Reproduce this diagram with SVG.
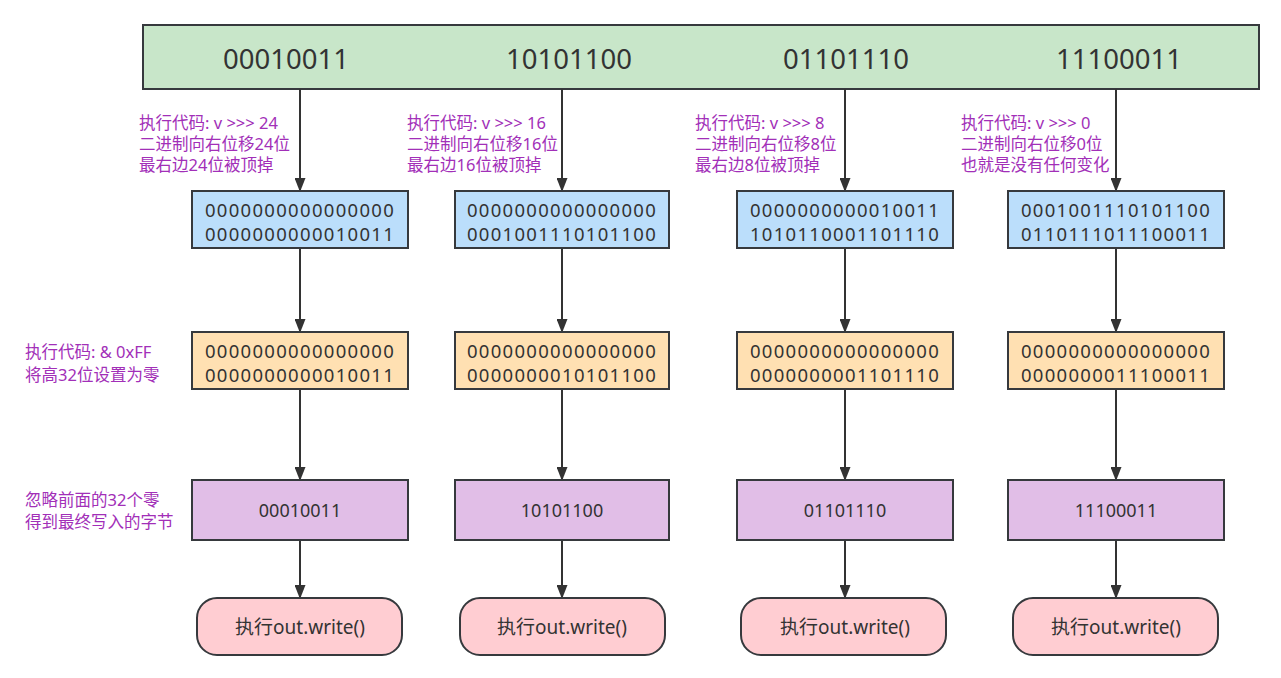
<svg xmlns="http://www.w3.org/2000/svg" width="1281" height="678" viewBox="0 0 1281 678">
<defs>
<style>
.box{stroke:#36393d;stroke-width:2}
.t{font-family:"Noto Sans","Noto Sans CJK SC",sans-serif;fill:#333333;text-anchor:middle}
.n{font-size:18.5px;letter-spacing:1.3px}
.b{font-size:18px}
.w{font-size:19px}
.big{font-size:27.5px}
.lbl{font-family:"Noto Sans","Noto Sans CJK SC",sans-serif;font-size:16.5px;fill:#A22FB8}
.c{stroke:#333333;stroke-width:2;fill:none;marker-end:url(#ah)}
</style>
<marker id="ah" viewBox="0 0 14 11" refX="13" refY="5.5" markerWidth="14" markerHeight="11" markerUnits="userSpaceOnUse" orient="auto">
<path d="M0,0 L14,5.5 L0,11 z" fill="#333333"/>
</marker>
</defs>
<rect width="1281" height="678" fill="#ffffff"/>
<g id="top">
<rect class="box" x="143" y="25" width="1116" height="64" fill="#C8E6C9"/>
<text class="t big" x="286" y="69">00010011</text>
<text class="t big" x="569" y="69">10101100</text>
<text class="t big" x="846" y="69">01101110</text>
<text class="t big" x="1119" y="69">11100011</text>
</g>
<g id="connectors">
<path class="c" d="M300,89 V191"/>
<path class="c" d="M300,248 V332"/>
<path class="c" d="M300,389 V480"/>
<path class="c" d="M300,540 V598"/>
<path class="c" d="M562,89 V191"/>
<path class="c" d="M562,248 V332"/>
<path class="c" d="M562,389 V480"/>
<path class="c" d="M562,540 V598"/>
<path class="c" d="M845,89 V191"/>
<path class="c" d="M845,248 V332"/>
<path class="c" d="M845,389 V480"/>
<path class="c" d="M845,540 V598"/>
<path class="c" d="M1116,89 V191"/>
<path class="c" d="M1116,248 V332"/>
<path class="c" d="M1116,389 V480"/>
<path class="c" d="M1116,540 V598"/>
</g>
<g id="labels">
<text class="lbl" x="139" y="129">执行代码: v &gt;&gt;&gt; 24</text>
<text class="lbl" x="139" y="150">二进制向右位移24位</text>
<text class="lbl" x="139" y="171">最右边24位被顶掉</text>
<text class="lbl" x="407" y="129">执行代码: v &gt;&gt;&gt; 16</text>
<text class="lbl" x="407" y="150">二进制向右位移16位</text>
<text class="lbl" x="407" y="171">最右边16位被顶掉</text>
<text class="lbl" x="695" y="129">执行代码: v &gt;&gt;&gt; 8</text>
<text class="lbl" x="695" y="150">二进制向右位移8位</text>
<text class="lbl" x="695" y="171">最右边8位被顶掉</text>
<text class="lbl" x="961" y="129">执行代码: v &gt;&gt;&gt; 0</text>
<text class="lbl" x="961" y="150">二进制向右位移0位</text>
<text class="lbl" x="961" y="171">也就是没有任何变化</text>
<text class="lbl" x="25" y="358">执行代码: &amp; 0xFF</text>
<text class="lbl" x="25" y="381">将高32位设置为零</text>
<text class="lbl" x="25" y="506">忽略前面的32个零</text>
<text class="lbl" x="25" y="528">得到最终写入的字节</text>
</g>
<g id="shift1">
<rect class="box" x="192" y="191" width="216" height="57" fill="#BBDEFB"/>
<text class="t n" x="300" y="216.5">0000000000000000</text>
<text class="t n" x="300" y="241">0000000000010011</text>
</g>
<g id="shift2">
<rect class="box" x="455" y="191" width="214" height="57" fill="#BBDEFB"/>
<text class="t n" x="562" y="216.5">0000000000000000</text>
<text class="t n" x="562" y="241">0001001110101100</text>
</g>
<g id="shift3">
<rect class="box" x="737" y="191" width="216" height="57" fill="#BBDEFB"/>
<text class="t n" x="845" y="216.5">0000000000010011</text>
<text class="t n" x="845" y="241">1010110001101110</text>
</g>
<g id="shift4">
<rect class="box" x="1008" y="191" width="216" height="57" fill="#BBDEFB"/>
<text class="t n" x="1116" y="216.5">0001001110101100</text>
<text class="t n" x="1116" y="241">0110111011100011</text>
</g>
<g id="mask1">
<rect class="box" x="192" y="332" width="216" height="57" fill="#FFE0B2"/>
<text class="t n" x="300" y="357.5">0000000000000000</text>
<text class="t n" x="300" y="382">0000000000010011</text>
</g>
<g id="mask2">
<rect class="box" x="455" y="332" width="214" height="57" fill="#FFE0B2"/>
<text class="t n" x="562" y="357.5">0000000000000000</text>
<text class="t n" x="562" y="382">0000000010101100</text>
</g>
<g id="mask3">
<rect class="box" x="737" y="332" width="216" height="57" fill="#FFE0B2"/>
<text class="t n" x="845" y="357.5">0000000000000000</text>
<text class="t n" x="845" y="382">0000000001101110</text>
</g>
<g id="mask4">
<rect class="box" x="1008" y="332" width="216" height="57" fill="#FFE0B2"/>
<text class="t n" x="1116" y="357.5">0000000000000000</text>
<text class="t n" x="1116" y="382">0000000011100011</text>
</g>
<g id="byte1">
<rect class="box" x="192" y="480" width="216" height="60" fill="#E1BEE7"/>
<text class="t b" x="300" y="517">00010011</text>
</g>
<g id="byte2">
<rect class="box" x="455" y="480" width="214" height="60" fill="#E1BEE7"/>
<text class="t b" x="562" y="517">10101100</text>
</g>
<g id="byte3">
<rect class="box" x="737" y="480" width="216" height="60" fill="#E1BEE7"/>
<text class="t b" x="845" y="517">01101110</text>
</g>
<g id="byte4">
<rect class="box" x="1008" y="480" width="216" height="60" fill="#E1BEE7"/>
<text class="t b" x="1116" y="517">11100011</text>
</g>
<g id="write1">
<rect class="box" x="197" y="598" width="205" height="57" rx="20" fill="#FFCDD2"/>
<text class="t w" x="300" y="634">执行out.write()</text>
</g>
<g id="write2">
<rect class="box" x="460" y="598" width="205" height="57" rx="20" fill="#FFCDD2"/>
<text class="t w" x="562" y="634">执行out.write()</text>
</g>
<g id="write3">
<rect class="box" x="741" y="598" width="205" height="57" rx="20" fill="#FFCDD2"/>
<text class="t w" x="845" y="634">执行out.write()</text>
</g>
<g id="write4">
<rect class="box" x="1013" y="598" width="205" height="57" rx="20" fill="#FFCDD2"/>
<text class="t w" x="1116" y="634">执行out.write()</text>
</g>
</svg>
